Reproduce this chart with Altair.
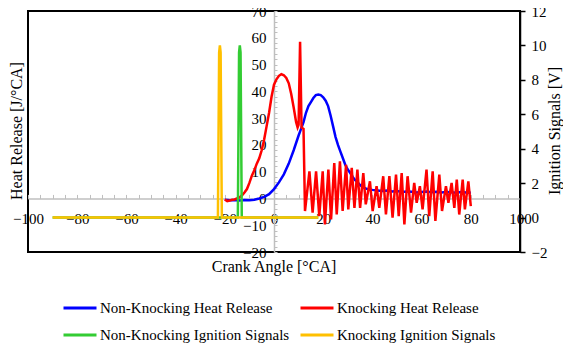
import altair as alt
import pandas as pd

# ---------------- data ----------------
series_names = ["Non-Knocking Heat Release", "Non-Knocking Ignition Signals",
                "Knocking Heat Release", "Knocking Ignition Signals"]
series_colors = ["#0000FF", "#33CC33", "#FF0000", "#FFC000"]

# Non-knocking heat release (blue)
nk_angle = [-20, -18, -16, -14, -12, -10, -8, -6, -4, -2, 0, 2, 4, 6, 8, 10, 11, 12, 13, 14,
            15, 16, 17, 18, 19, 20, 21, 22, 23, 24, 25, 26, 27, 28, 29, 30, 31, 32, 33, 34,
            35, 36, 37, 38, 40, 42, 44, 46, 48, 50, 52, 54, 56, 58, 60, 62, 64, 66, 68, 70,
            72, 74, 76, 78, 80]
nk_hr = [-0.5, -0.7, -0.6, -0.8, -0.6, -0.7, -0.5, 0.0, 0.6, 1.6, 3.5, 6.0, 9.0, 13.0, 18.0, 23.5, 26.0, 28.5, 32.0, 34.5,
         36.0, 37.5, 38.6, 38.8, 38.6, 37.8, 36.5, 34.5, 31.0, 27.0, 23.0, 20.0, 17.5, 15.0, 12.5, 10.8, 9.5, 8.0, 6.8, 6.0,
         5.0, 4.3, 3.8, 3.5, 3.2, 3.0, 2.8, 3.0, 2.6, 2.8, 2.4, 2.6, 2.5, 2.2, 2.4, 2.6, 2.3, 2.5, 2.2, 2.4,
         2.3, 2.1, 2.4, 2.2, 2.1]

# Knocking heat release (red)
k_angle = [-20, -19, -18, -17, -16, -15, -14, -13, -12, -11, -10, -9, -8, -7, -6, -5, -4, -3, -2, -1,
           0, 1, 2, 3, 4, 5, 6, 7, 8, 9, 9.6, 10.0, 10.6, 11.2, 12.0,
           12.6, 14.4, 15.7, 17.1, 18.4, 19.8, 20.7, 22.1, 23.2, 24.5, 25.5, 26.8, 27.9, 29.3, 30.2,
           31.6, 32.7, 33.9, 35.0, 36.3, 37.3, 39.0, 40.1, 41.7, 42.8, 44.4, 45.5, 46.9, 48.2, 49.6,
           50.7, 51.9, 53.0, 54.3, 55.7, 57.0, 58.0, 59.3, 60.4, 62.0, 63.1, 64.5, 65.6, 67.2, 68.3,
           69.9, 70.9, 72.2, 73.3, 74.3, 75.3, 76.7, 77.6, 79.0, 80.0]
k_hr = [-0.4, -1.0, -0.8, -0.5, -0.4, 0.0, 0.4, 1.2, 2.2, 3.5, 5.8, 8.5, 10.5, 13.0, 15.0, 18.0, 22.0, 27.0, 32.0, 38.0,
        42.5, 44.5, 45.8, 46.4, 46.0, 45.0, 43.0, 39.0, 34.0, 28.5, 26.5, 27.5, 58.5, 26.5, 26.0,
        -4.7, 10.1, -5.3, 10.1, -6.6, 10.1, -9.7, 10.8, -7.8, 13.2, -6.0, 13.9, -4.7, 12.6, -4.1,
        11.4, -3.5, 10.8, -3.5, 9.5, -2.2, 6.4, -4.7, 4.6, -3.5, 8.3, -6.0, 8.3, -7.2, 8.9,
        -6.6, 9.5, -9.7, 8.3, -5.3, 5.8, -1.6, 4.6, -4.1, 10.8, -6.6, 10.1, -8.4, 8.9, -4.7,
        4.6, -1.6, 5.8, -3.5, 7.0, -6.0, 7.0, -4.1, 6.4, -2.9]

# Ignition signals [V]
nk_sig_angle = [-90, -14.7, -14.2, -13.9, -13.6, -13.1, 18]
nk_sig = [0, 0, 9.6, 10, 9.6, 0, 0]
k_sig_angle = [-90, -22.8, -22.3, -22.0, -21.7, -21.2, 18]
k_sig = [0, 0, 9.6, 10, 9.6, 0, 0]

x_major = list(range(-100, 101, 20))
x_minor = list(range(-100, 101, 5))
hr_major = list(range(-20, 71, 10))
hr_minor = list(range(-20, 71, 2))
sig_major = list(range(-2, 13, 2))

titles = ["Heat Release [J/°CA]", "Crank Angle [°CA]", "Ignition Signals [V]"]

# ---------------- chart ----------------
W, H = 492, 241
FONT = "Liberation Serif"
GREY = "#BFBFBF"

def frame(a, v, name):
    return pd.DataFrame({"angle": a, "value": v, "series": name})

df_nk = frame(nk_angle, nk_hr, "Non-Knocking Heat Release")
df_k = frame(k_angle, k_hr, "Knocking Heat Release")
df_nks = frame(nk_sig_angle, nk_sig, "Non-Knocking Ignition Signals")
df_ks = frame(k_sig_angle, k_sig, "Knocking Ignition Signals")

xscale = alt.Scale(domain=[-100, 100], nice=False, zero=False)
hr_scale = alt.Scale(domain=[-20, 70], nice=False, zero=False)
sig_scale = alt.Scale(domain=[-2, 12], nice=False, zero=False)
cscale = alt.Scale(domain=series_names, range=series_colors)

legend = alt.Legend(title=None, orient="none", legendX=34, legendY=279, columns=2,
                    symbolType="stroke", symbolSize=1089, symbolStrokeWidth=3,
                    labelFont=FONT, labelFontSize=15, labelColor="black", labelOffset=2,
                    labelLimit=400, columnPadding=4, rowPadding=1, padding=0)

zero_y = H * 70 / 90.0

x_lab_axis = alt.Axis(orient="bottom", offset=-(H - zero_y), values=x_major, domain=False, ticks=False,
                      labelPadding=13, labelFont=FONT, labelFontSize=15, labelColor="black",
                      labelFlush=False, labelOverlap=False, labelBound=False, grid=False, title=None)
x_line_axis = alt.Axis(orient="top", offset=-zero_y, values=x_minor, domain=True, domainColor=GREY,
                       domainWidth=1.5, ticks=True, tickColor=GREY, tickSize=4, tickWidth=1,
                       labels=False, grid=False, title=None)
y_hr_lab = alt.Axis(orient="left", offset=-W / 2, values=hr_major, domain=False, ticks=False, tickSize=0,
                    labelPadding=8, labelFont=FONT, labelFontSize=15, labelColor="black",
                    labelOverlap=False, labelBound=False, grid=False, title=None)
y_hr_line = alt.Axis(orient="right", offset=-W / 2, values=hr_minor, domain=True, domainColor=GREY,
                     domainWidth=1.5, ticks=True, tickColor=GREY, tickSize=3, tickWidth=1,
                     labels=False, grid=False, title=None)
y_sig_axis = alt.Axis(orient="right", values=sig_major, domain=True, domainColor="black", domainWidth=1.5,
                      ticks=True, tickColor="black", tickSize=5, tickWidth=1.5, labelPadding=6,
                      labelFont=FONT, labelFontSize=15, labelColor="black", labelOverlap=False,
                      labelBound=False, grid=False, title=None)

def line(df, yscale, xaxis, yaxis, sw=2.5):
    return alt.Chart(df).mark_line(strokeWidth=sw).encode(
        x=alt.X("angle:Q", scale=xscale, axis=xaxis),
        y=alt.Y("value:Q", scale=yscale, axis=yaxis),
        color=alt.Color("series:N", scale=cscale, legend=legend),
    )

blue = line(df_nk, hr_scale, x_lab_axis, y_hr_lab)
red = line(df_k, hr_scale, None, None)
green = line(df_nks, sig_scale, None, y_sig_axis)
yellow = line(df_ks, sig_scale, None, None)

guide = alt.Chart(df_nk).mark_line(opacity=0).encode(
    x=alt.X("angle:Q", scale=xscale, axis=x_line_axis),
    y=alt.Y("value:Q", scale=hr_scale, axis=y_hr_line),
)

def title_text(txt, x, y, angle):
    return alt.Chart(pd.DataFrame({"t": [txt]})).mark_text(
        font=FONT, fontSize=16, color="black", angle=angle, align="center", baseline="middle"
    ).encode(x=alt.value(x), y=alt.value(y), text="t:N")

t_left = title_text(titles[0], -11, 120, 270)
t_x = title_text(titles[1], 246, 256, 0)
t_right = title_text(titles[2], 527, 120, 270)

chart = alt.layer(guide, blue, red, green, yellow, t_left, t_x, t_right).resolve_scale(
    y="independent"
).resolve_axis(
    x="independent", y="independent"
).properties(
    width=W, height=H,
    padding={"left": 20, "top": 3, "right": 43, "bottom": 95},
    autosize=alt.AutoSizeParams(type="none"),
).configure(font=FONT).configure_view(stroke="black", strokeWidth=2)

chart.save("out.html", embed_options={"renderer": "svg", "actions": False})
